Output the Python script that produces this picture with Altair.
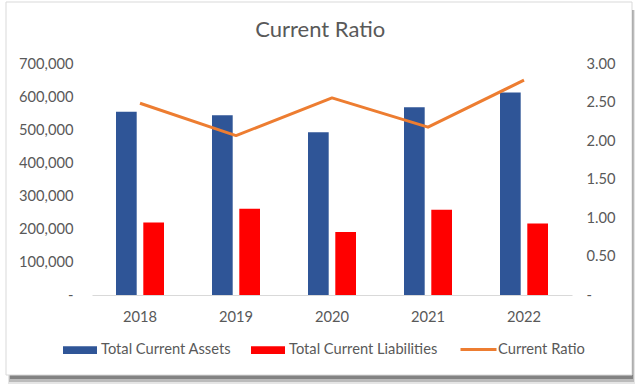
import altair as alt
import pandas as pd

# ---- data ----
years = ["2018", "2019", "2020", "2021", "2022"]
total_current_assets = [555000, 545000, 493000, 569000, 614000]
total_current_liabilities = [220000, 261000, 191000, 258000, 217000]
current_ratio = [2.49, 2.07, 2.56, 2.18, 2.79]
bar_series = ["Total Current Assets", "Total Current Liabilities"]
line_series = ["Current Ratio"]
left_ticks = [0, 100000, 200000, 300000, 400000, 500000, 600000, 700000]
right_ticks = [0, 0.5, 1.0, 1.5, 2.0, 2.5, 3.0]
title_text = "Current Ratio"

FONT = "Lato"
TEXT = "#595959"
NB = "\u00a0"
FS = 14.7

bars_df = pd.DataFrame({
    "Year": years * 2,
    "Series": [bar_series[0]] * len(years) + [bar_series[1]] * len(years),
    "Value": total_current_assets + total_current_liabilities,
})
line_df = pd.DataFrame({
    "Year": years,
    "Series": line_series * len(years),
    "Ratio": current_ratio,
})

# plot origin inside the 640x390 canvas
OX, OY = 92, 64

deco = pd.DataFrame({"k": [0]})


def box(x0, x1, y0, y1, **kw):
    return alt.Chart(deco).mark_rect(**kw).encode(
        x=alt.value(x0 - OX), x2=alt.value(x1 - OX),
        y=alt.value(y0 - OY), y2=alt.value(y1 - OY),
    )


shadow1 = box(8, 635, 10, 384, fill="#000000", opacity=0.10)
shadow2 = box(9, 634, 10, 382, fill="#000000", opacity=0.18)
shadow3 = box(10, 633, 10, 379, fill="#000000", opacity=0.30)
card = box(6, 632, 2, 375, fill="#FFFFFF", stroke="#D9D9D9", strokeWidth=1)

x_axis = alt.Axis(
    title=None, labelAngle=0, ticks=False, grid=False,
    domainColor="#D9D9D9", domainWidth=1, labelPadding=14,
    labelFont=FONT, labelFontSize=FS, labelColor=TEXT, zindex=1,
)
x_scale = alt.Scale(paddingInner=0, paddingOuter=0)

bars = alt.Chart(bars_df).mark_bar().encode(
    x=alt.X("Year:N", sort=years, scale=x_scale, axis=x_axis),
    xOffset=alt.XOffset(
        "Series:N", sort=bar_series,
        scale=alt.Scale(paddingInner=0.242, paddingOuter=0.879),
    ),
    y=alt.Y(
        "Value:Q",
        scale=alt.Scale(domain=[0, 700000], nice=False),
        axis=alt.Axis(
            title=None, orient="left", values=left_ticks,
            labelExpr="datum.value == 0 ? '-" + NB * 5 + "' : format(datum.value, ',')",
            grid=False, domain=False, ticks=False, labelPadding=19,
            labelFont=FONT, labelFontSize=FS, labelColor=TEXT, zindex=1,
        ),
    ),
    color=alt.Color(
        "Series:N", sort=bar_series,
        scale=alt.Scale(domain=bar_series, range=["#2F5597", "#FF0000"]),
        legend=alt.Legend(
            title=None, orient="none", legendX=63 - OX, legendY=350 - 17 - OY,
            direction="horizontal", symbolType="M-1,-0.225H1V0.225H-1Z",
            symbolSize=1156, symbolStrokeWidth=0, labelOffset=4,
            columnPadding=19, padding=0,
            labelFont=FONT, labelFontSize=FS, labelColor=TEXT,
        ),
    ),
)

line = alt.Chart(line_df).mark_line(strokeWidth=3, strokeJoin="round").encode(
    x=alt.X("Year:N", sort=years, scale=x_scale, axis=x_axis),
    y=alt.Y(
        "Ratio:Q",
        scale=alt.Scale(domain=[0, 3], nice=False),
        axis=alt.Axis(
            title=None, orient="right", values=right_ticks,
            labelExpr="datum.value == 0 ? '" + NB + "-' : format(datum.value, '.2f')",
            grid=False, domain=False, ticks=False, labelPadding=14,
            labelFont=FONT, labelFontSize=FS, labelColor=TEXT, zindex=1,
        ),
    ),
    stroke=alt.Stroke(
        "Series:N",
        scale=alt.Scale(domain=line_series, range=["#ED7D31"]),
        legend=alt.Legend(
            title=None, orient="none", legendX=459 - OX, legendY=350 - 20 - OY,
            direction="horizontal", symbolType="stroke", symbolSize=1296,
            symbolStrokeWidth=3, labelOffset=0, padding=0,
            labelFont=FONT, labelFontSize=FS, labelColor=TEXT,
        ),
    ),
)

chart = alt.layer(shadow1, shadow2, shadow3, card, bars, line).resolve_scale(
    y="independent"
).properties(
    width=480,
    height=231,
    autosize="none",
    padding={"left": OX, "top": OY, "right": 640 - OX - 480, "bottom": 390 - OY - 231},
    background="#FFFFFF",
    title=alt.Title(
        title_text, font=FONT, fontSize=22, fontWeight="normal", color=TEXT,
        anchor="middle", frame="bounds", offset=0, dy=40,
    ),
).configure_view(stroke=None)

chart.save("out.html", embed_options={"renderer": "svg", "actions": False})
